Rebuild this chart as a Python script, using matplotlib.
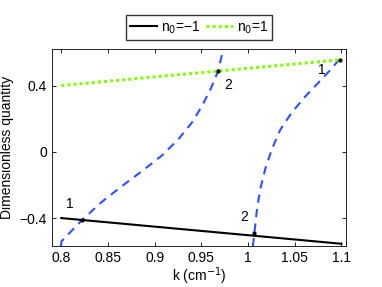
import numpy as np
import matplotlib
matplotlib.use("Agg")
import matplotlib.pyplot as plt

plt.rcParams["font.family"] = ["Liberation Sans", "DejaVu Sans"]

# straight lines (end points)
k_line = [0.8, 1.1]
n_neg = [-0.40, -0.555]
n_pos = [0.40, 0.556]

# dashed curves
k_c1 = [0.7995, 0.8003, 0.8225, 0.8439, 0.8654, 0.8868, 0.9083, 0.926, 0.9404, 0.951, 0.960, 0.968, 0.9726, 0.9730]
y_c1 = [-0.570, -0.540, -0.410, -0.300, -0.205, -0.115, -0.020, 0.080, 0.180, 0.280, 0.380, 0.488, 0.600, 0.620]
k_c2 = [1.0052, 1.0054, 1.0068, 1.0097, 1.0133, 1.0186, 1.0258, 1.0347, 1.0472, 1.0615, 1.0758, 1.0883, 1.0972]
y_c2 = [-0.570, -0.560, -0.490, -0.340, -0.220, -0.100, 0.020, 0.135, 0.240, 0.335, 0.420, 0.495, 0.554]

# crossing points and labels
dot_k = [0.8225, 0.968, 1.0068, 1.098]
dot_y = [-0.41, 0.488, -0.49, 0.554]
lab_txt = ["1", "2", "2", "1"]
lab_k = [0.8096, 0.9786, 0.9954, 1.0794]
lab_y = [-0.316, 0.404, -0.396, 0.494]

fig = plt.figure(figsize=(3.82, 2.87), dpi=100)
ax = fig.add_axes([0.136, 0.142, 0.770, 0.687])

ax.plot(k_c1, y_c1, color="#2f50ff", lw=1.5, ls=(0, (4, 3)))
ax.plot(k_c2, y_c2, color="#2f50ff", lw=1.5, ls=(0, (4, 3)))
l1, = ax.plot(k_line, n_neg, color="black", lw=1.5, label="n$_0$=\u22121")
l2, = ax.plot(k_line, n_pos, color="#7fff00", lw=2.2, ls=(0, (1, 1)), label="n$_0$=1")
ax.plot(dot_k, dot_y, "k.", ms=4)
for t, x, y in zip(lab_txt, lab_k, lab_y):
    ax.text(x, y, t, fontsize=10, ha="center", va="center")

ax.set_xlim(0.79, 1.105)
ax.set_ylim(-0.57, 0.62)
ax.set_xticks([0.8, 0.85, 0.9, 0.95, 1.0, 1.05, 1.1])
ax.set_xticklabels(["0.8", "0.85", "0.9", "0.95", "1", "1.05", "1.1"])
ax.set_yticks([-0.4, 0, 0.4])
ax.set_yticklabels(["\u22120.4", "0", "0.4"])
ax.tick_params(direction="in", top=True, right=True, labelsize=10, length=3, width=0.6)
for s in ax.spines.values():
    s.set_linewidth(0.6)
ax.set_xlabel("k (cm$^{-1}$)", fontsize=10, labelpad=0)
ax.set_ylabel("Dimensionless quantity", fontsize=10, labelpad=4)

fig.legend(handles=[l1, l2], loc="upper center", bbox_to_anchor=(0.522, 0.972), ncol=2,
           fontsize=10, frameon=True, fancybox=False, edgecolor="black",
           handlelength=1.9, handletextpad=0.3, columnspacing=0.4, borderpad=0.3)

fig.savefig("out.png", dpi=100)
